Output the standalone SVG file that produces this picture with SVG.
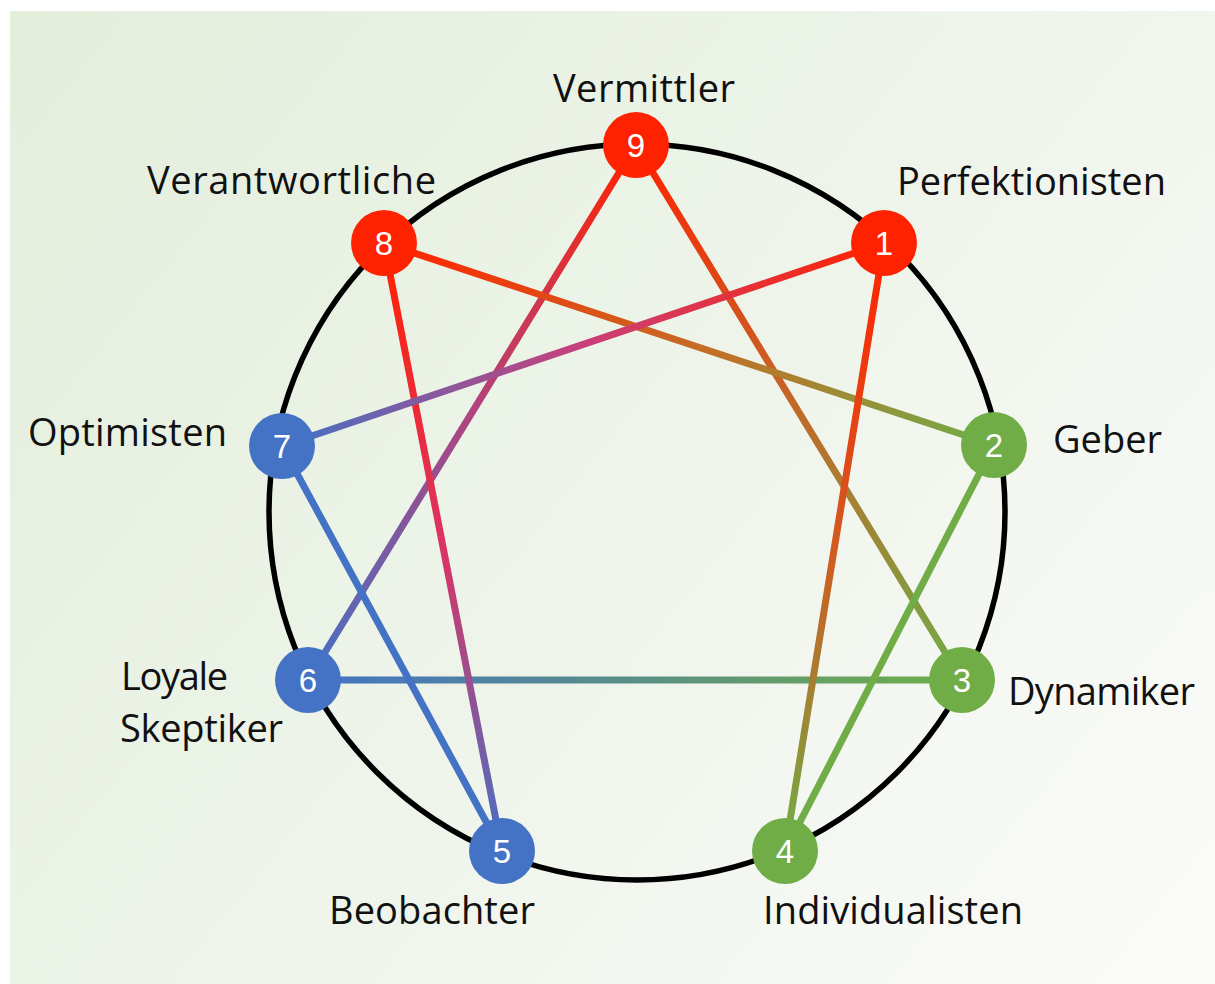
<svg xmlns="http://www.w3.org/2000/svg" width="1215" height="984" viewBox="0 0 1215 984">
  <style>
    .lbl { font-family: "Open Sans", "Noto Sans", "DejaVu Sans", sans-serif; font-size: 38px; fill: #111; }
    .num { font-family: "Liberation Sans", Arial, sans-serif; font-size: 33px; fill: #ffffff; text-anchor: middle; }
    .red { fill: #ff2200; }
    .blue { fill: #4472c4; }
    .green { fill: #70ad47; }
    .conn { fill: none; stroke-width: 7; stroke-linecap: round; }
  </style>
  <defs>
    <linearGradient id="bg" x1="10" y1="11" x2="1215" y2="984" gradientUnits="userSpaceOnUse">
      <stop offset="0" stop-color="#e3eedb"/>
      <stop offset="0.5" stop-color="#eef4ea"/>
      <stop offset="1" stop-color="#fbfbfa"/>
    </linearGradient>
    <linearGradient id="g93" x1="636" y1="145" x2="962" y2="680" gradientUnits="userSpaceOnUse">
      <stop offset="0" stop-color="#ff2200"/>
      <stop offset="0.5" stop-color="#c06a2a"/>
      <stop offset="1" stop-color="#70ad47"/>
    </linearGradient>
    <linearGradient id="g96" x1="636" y1="145" x2="308" y2="680" gradientUnits="userSpaceOnUse">
      <stop offset="0" stop-color="#ff2200"/>
      <stop offset="0.5" stop-color="#b04480"/>
      <stop offset="1" stop-color="#4472c4"/>
    </linearGradient>
    <linearGradient id="g82" x1="384" y1="243" x2="994" y2="445" gradientUnits="userSpaceOnUse">
      <stop offset="0" stop-color="#ff2200"/>
      <stop offset="0.5" stop-color="#c86a24"/>
      <stop offset="1" stop-color="#70ad47"/>
    </linearGradient>
    <linearGradient id="g85" x1="384" y1="243" x2="502" y2="851" gradientUnits="userSpaceOnUse">
      <stop offset="0" stop-color="#ff2200"/>
      <stop offset="0.5" stop-color="#dc3366"/>
      <stop offset="1" stop-color="#4472c4"/>
    </linearGradient>
    <linearGradient id="g17" x1="884" y1="243" x2="282" y2="446" gradientUnits="userSpaceOnUse">
      <stop offset="0" stop-color="#ff2200"/>
      <stop offset="0.5" stop-color="#c8407a"/>
      <stop offset="1" stop-color="#4472c4"/>
    </linearGradient>
    <linearGradient id="g14" x1="884" y1="243" x2="785" y2="851" gradientUnits="userSpaceOnUse">
      <stop offset="0" stop-color="#ff2200"/>
      <stop offset="0.5" stop-color="#d25a20"/>
      <stop offset="1" stop-color="#70ad47"/>
    </linearGradient>
    <linearGradient id="g63" x1="308" y1="680" x2="962" y2="680" gradientUnits="userSpaceOnUse">
      <stop offset="0" stop-color="#4472c4"/>
      <stop offset="1" stop-color="#70ad47"/>
    </linearGradient>
  </defs>

  <rect x="0" y="0" width="1215" height="984" fill="#ffffff"/>
  <rect x="10" y="11" width="1205" height="973" fill="url(#bg)"/>

  <circle cx="637" cy="512" r="368" fill="none" stroke="#000" stroke-width="5.5"/>

  <g id="connectors">
    <line class="conn" x1="636" y1="145" x2="962" y2="680" stroke="url(#g93)"/>
    <line class="conn" x1="636" y1="145" x2="308" y2="680" stroke="url(#g96)"/>
    <line class="conn" x1="308" y1="680" x2="962" y2="680" stroke="url(#g63)"/>
    <line class="conn" x1="384" y1="243" x2="994" y2="445" stroke="url(#g82)"/>
    <line class="conn" x1="384" y1="243" x2="502" y2="851" stroke="url(#g85)"/>
    <line class="conn" x1="884" y1="243" x2="282" y2="446" stroke="url(#g17)"/>
    <line class="conn" x1="884" y1="243" x2="785" y2="851" stroke="url(#g14)"/>
    <line class="conn" x1="282" y1="446" x2="502" y2="851" stroke="#4472c4"/>
    <line class="conn" x1="994" y1="445" x2="785" y2="851" stroke="#70ad47"/>
  </g>

  <g id="node-9">
    <circle class="red" cx="636" cy="145" r="33"/>
    <text class="num" x="636" y="157">9</text>
    <text class="lbl" x="553" y="102" textLength="182">Vermittler</text>
  </g>
  <g id="node-1">
    <circle class="red" cx="884" cy="243" r="33"/>
    <text class="num" x="884" y="255">1</text>
    <text class="lbl" x="897" y="195" textLength="269">Perfektionisten</text>
  </g>
  <g id="node-2">
    <circle class="green" cx="994" cy="445" r="33"/>
    <text class="num" x="994" y="457">2</text>
    <text class="lbl" x="1053" y="453" textLength="109">Geber</text>
  </g>
  <g id="node-3">
    <circle class="green" cx="962" cy="680" r="33"/>
    <text class="num" x="962" y="692">3</text>
    <text class="lbl" x="1008" y="705" textLength="187">Dynamiker</text>
  </g>
  <g id="node-4">
    <circle class="green" cx="785" cy="851" r="33"/>
    <text class="num" x="785" y="863">4</text>
    <text class="lbl" x="763" y="924" textLength="260">Individualisten</text>
  </g>
  <g id="node-5">
    <circle class="blue" cx="502" cy="851" r="33"/>
    <text class="num" x="502" y="863">5</text>
    <text class="lbl" x="329" y="924" textLength="206">Beobachter</text>
  </g>
  <g id="node-6">
    <circle class="blue" cx="308" cy="680" r="33"/>
    <text class="num" x="308" y="692">6</text>
    <text class="lbl" x="121" y="690" textLength="107">Loyale</text>
    <text class="lbl" x="120" y="742" textLength="163">Skeptiker</text>
  </g>
  <g id="node-7">
    <circle class="blue" cx="282" cy="446" r="33"/>
    <text class="num" x="282" y="458">7</text>
    <text class="lbl" x="28" y="446" textLength="199">Optimisten</text>
  </g>
  <g id="node-8">
    <circle class="red" cx="384" cy="243" r="33"/>
    <text class="num" x="384" y="255">8</text>
    <text class="lbl" x="147" y="194" textLength="289">Verantwortliche</text>
  </g>
</svg>
